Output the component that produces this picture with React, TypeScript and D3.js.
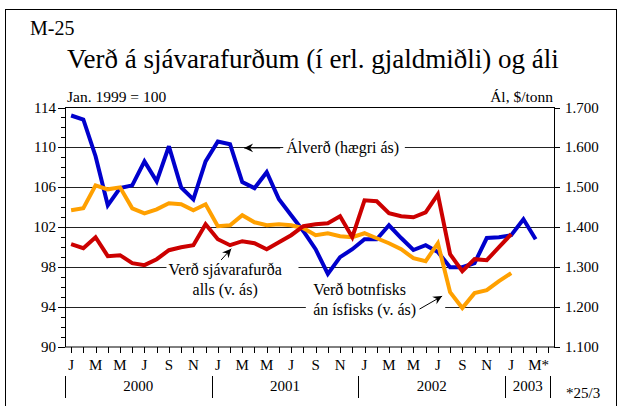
import React, { useEffect, useRef } from 'react'
import { line, scaleLinear, select, range } from 'd3'

// Jan 2000 .. Mar 2003, one value per month
const alverd = [
  1680, 1670, 1578, 1455, 1498, 1505, 1565, 1515, 1603, 1500, 1470, 1565,
  1615, 1608, 1513, 1498, 1538, 1470, 1430, 1390, 1345, 1283, 1325, 1345,
  1370, 1370, 1405, 1373, 1343, 1355, 1338, 1300, 1300, 1310, 1373, 1375,
  1380, 1420, 1370,
]
const sjavarafurdir = [
  100.3, 99.9, 101.0, 99.1, 99.2, 98.4, 98.2, 98.8, 99.7, 100.0, 100.2, 102.3,
  100.8, 100.2, 100.6, 100.4, 99.8, 100.5, 101.2, 102.1, 102.3, 102.4, 103.1, 101.0,
  104.7, 104.6, 103.4, 103.1, 103.0, 103.5, 105.3, 99.3, 97.6, 98.8, 98.7, 100.0,
  101.3,
]
const botnfiskur = [
  103.7, 103.9, 106.2, 105.8, 106.0, 103.9, 103.4, 103.8, 104.4, 104.3, 103.7, 104.3,
  102.1, 102.2, 103.2, 102.5, 102.2, 102.3, 102.2, 101.9, 101.2, 101.4, 101.1, 101.0,
  101.4, 100.9, 100.4, 99.8, 98.9, 98.6, 100.4, 95.5, 93.9, 95.4, 95.7, 96.6,
  97.4,
]
const monthLabels = ['J', 'M', 'M', 'J', 'S', 'N', 'J', 'M', 'M', 'J', 'S', 'N', 'J', 'M', 'M', 'J', 'S', 'N', 'J', 'M*']
const years = [
  { label: '2000', from: -0.5, to: 11.5 },
  { label: '2001', from: 11.5, to: 23.5 },
  { label: '2002', from: 23.5, to: 35.5 },
  { label: '2003', from: 35.5, to: 39.2 },
]
const leftTicks = [90, 94, 98, 102, 106, 110, 114]
const rightTicks = [1100, 1200, 1300, 1400, 1500, 1600, 1700]

const App = () => {
  const ref = useRef<SVGSVGElement>(null)

  useEffect(() => {
    main()
  }, [])

  const main = () => {
    const svg = select(ref.current)
    svg.selectAll('*').remove()

    const x = scaleLinear().domain([-0.5, 39.5]).range([65, 554])
    const yL = scaleLinear().domain([90, 114]).range([347, 107.5])
    const yR = scaleLinear().domain([1100, 1700]).range([347, 107.5])

    // outer box
    svg.append('rect')
      .attr('x', 5.5).attr('y', 9.5).attr('width', 611).attr('height', 500)
      .attr('fill', 'none').attr('stroke', '#000')

    svg.append('text').attr('x', 30).attr('y', 35).attr('font-size', 20).text('M-25')
    svg.append('text').attr('x', 67).attr('y', 68).attr('font-size', 27)
      .text('Verð á sjávarafurðum (í erl. gjaldmiðli) og áli')
    svg.append('text').attr('x', 67).attr('y', 102).attr('font-size', 15.5).text('Jan. 1999 = 100')
    svg.append('text').attr('x', 553).attr('y', 102).attr('font-size', 15.5)
      .attr('text-anchor', 'end').text('Ál, $/tonn')

    // gridlines
    svg.append('g').selectAll('line').data(leftTicks.slice(1, -1)).enter().append('line')
      .attr('x1', 58).attr('x2', 560)
      .attr('y1', (d) => Math.round(yL(d)) + 0.5).attr('y2', (d) => Math.round(yL(d)) + 0.5)
      .attr('stroke', '#222')

    // left ticks
    svg.append('g').selectAll('line').data(range(90, 115)).enter().append('line')
      .attr('x1', (d) => (d % 4 === 2 ? 58 : 61)).attr('x2', 65)
      .attr('y1', (d) => Math.round(yL(d)) + 0.5).attr('y2', (d) => Math.round(yL(d)) + 0.5)
      .attr('stroke', '#000')
    svg.append('g').selectAll('line').data(rightTicks).enter().append('line')
      .attr('x1', 554).attr('x2', 560)
      .attr('y1', (d) => Math.round(yR(d)) + 0.5).attr('y2', (d) => Math.round(yR(d)) + 0.5)
      .attr('stroke', '#000')
    svg.append('g').selectAll('line').data(range(0, 40)).enter().append('line')
      .attr('x1', (d) => Math.round(x(d)) + 0.5).attr('x2', (d) => Math.round(x(d)) + 0.5)
      .attr('y1', 347).attr('y2', 353)
      .attr('stroke', '#000')

    svg.append('g').selectAll('text').data(leftTicks).enter().append('text')
      .attr('x', 56).attr('y', (d) => yL(d) + 5).attr('text-anchor', 'end')
      .attr('font-size', 15).text((d) => d)
    svg.append('g').selectAll('text').data(rightTicks).enter().append('text')
      .attr('x', 565).attr('y', (d) => yR(d) + 5)
      .attr('font-size', 15).text((d) => (d / 1000).toFixed(3))

    svg.append('g').selectAll('text').data(monthLabels).enter().append('text')
      .attr('x', (d, i) => x(i * 2)).attr('y', 370).attr('text-anchor', 'middle')
      .attr('font-size', 15).text((d) => d)
      .attr('dx', (d) => (d === 'M*' ? 3 : 0))

    const yg = svg.append('g')
    yg.selectAll('line').data(years).enter().append('line')
      .attr('x1', (d) => Math.round(x(d.from)) + 0.5).attr('x2', (d) => Math.round(x(d.from)) + 0.5)
      .attr('y1', 376).attr('y2', 398).attr('stroke', '#000')
    yg.append('line')
      .attr('x1', Math.round(x(39.2)) + 0.5).attr('x2', Math.round(x(39.2)) + 0.5)
      .attr('y1', 376).attr('y2', 398).attr('stroke', '#000')
    yg.selectAll('text').data(years).enter().append('text')
      .attr('x', (d) => (x(d.from) + x(d.to)) / 2).attr('y', 391).attr('text-anchor', 'middle')
      .attr('font-size', 15).text((d) => d.label)
    svg.append('text').attr('x', 566).attr('y', 398).attr('font-size', 15).text('*25/3')

    // gaps in gridlines behind the labels
    const gaps = [
      [x(17.35), yL(110) - 8, x(27.3) - x(17.35), 16],
      [x(7.8), yL(98) - 8, x(18.6) - x(7.8), 16],
      [x(19.2), yL(94) - 8, x(30.6) - x(19.2), 16],
    ]
    svg.append('g').selectAll('rect').data(gaps).enter().append('rect')
      .attr('x', (d) => d[0]).attr('y', (d) => d[1]).attr('width', (d) => d[2]).attr('height', (d) => d[3])
      .attr('fill', '#fff')

    // frame
    svg.append('rect')
      .attr('x', 65.5).attr('y', 107.5).attr('width', 489).attr('height', 239.5)
      .attr('fill', 'none').attr('stroke', '#000')

    const lineL = line<number>().x((d, i) => x(i)).y((d) => yL(d))
    const lineR = line<number>().x((d, i) => x(i)).y((d) => yR(d))
    const g = svg.append('g').attr('fill', 'none').attr('stroke-width', 4)
      .attr('stroke-linejoin', 'miter').attr('stroke-miterlimit', 3)
    g.append('path').attr('d', lineR(alverd)).attr('stroke', '#0000CC')
    g.append('path').attr('d', lineL(botnfiskur)).attr('stroke', '#FFA000')
    g.append('path').attr('d', lineL(sjavarafurdir)).attr('stroke', '#CC0000')

    // annotations
    const arrow = (x1: number, y1: number, x2: number, y2: number) => {
      const a = Math.atan2(y2 - y1, x2 - x1)
      svg.append('line').attr('x1', x1).attr('y1', y1).attr('x2', x2).attr('y2', y2)
        .attr('stroke', '#000').attr('stroke-width', 1)
      const p = (len: number, ang: number) => [x2 - len * Math.cos(a + ang), y2 - len * Math.sin(a + ang)]
      const p1 = p(10, 0.45), p2 = p(6, 0), p3 = p(10, -0.45)
      svg.append('path')
        .attr('d', `M${x2},${y2}L${p1[0]},${p1[1]}L${p2[0]},${p2[1]}L${p3[0]},${p3[1]}Z`)
        .attr('fill', '#000')
    }
    arrow(x(17.1), yL(110) + 0.5, x(14.15), yL(110) + 0.5)
    svg.append('text').attr('x', x(17.6)).attr('y', yL(110) + 5.5).attr('font-size', 16)
      .text('Álverð (hægri ás)')

    arrow(x(12.27), yL(98.72), x(13.1), yL(99.85))
    svg.append('text').attr('x', x(12.6)).attr('y', yL(97.2)).attr('font-size', 16)
      .attr('text-anchor', 'middle').text('Verð sjávarafurða')
    svg.append('text').attr('x', x(12.6)).attr('y', yL(95.2)).attr('font-size', 16)
      .attr('text-anchor', 'middle').text('alls (v. ás)')

    arrow(x(28.5), yL(93.8), x(30.35), yL(95.1))
    svg.append('text').attr('x', x(19.8)).attr('y', yL(95.2)).attr('font-size', 16).text('Verð botnfisks')
    svg.append('text').attr('x', x(19.8)).attr('y', yL(93.2)).attr('font-size', 16).text('án ísfisks (v. ás)')

    svg.selectAll('text').style('font-family', '"Liberation Serif", "DejaVu Serif", serif')
  }

  return (
    <div style={{ position: 'absolute', left: 0, top: 0 }}>
      <svg ref={ref} width={621} height={406} style={{ display: 'block', background: '#fff' }}></svg>
    </div>
  )
}

export default App
